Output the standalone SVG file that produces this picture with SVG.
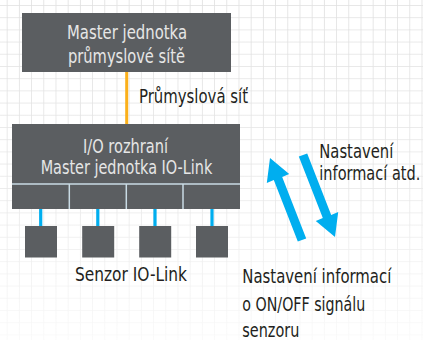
<svg xmlns="http://www.w3.org/2000/svg" width="423" height="340" viewBox="0 0 423 340">
  <defs>
    <pattern id="grid" x="6.7" y="5" width="12.2" height="12.2" patternUnits="userSpaceOnUse">
      <path d="M0 0 H12.2 M0 0 V12.2" fill="none" stroke="#e0e0e0" stroke-width="1.6"/>
    </pattern>
    <linearGradient id="fade" x1="0" y1="0" x2="0" y2="1">
      <stop offset="0" stop-color="#fff" stop-opacity="1"/>
      <stop offset="0.55" stop-color="#fff" stop-opacity="0.8"/>
      <stop offset="1" stop-color="#fff" stop-opacity="0.2"/>
    </linearGradient>
    <mask id="gridmask">
      <rect x="0" y="0" width="423" height="340" fill="url(#fade)"/>
    </mask>
  </defs>
  <style>
    .box { fill: #5b5e61; }
    .t { font-family: "DejaVu Sans Condensed", "Liberation Sans", sans-serif; font-size: 20px; }
    .in { fill: #e6e6e6; }
    .out { fill: #231f20; }
    .blue { stroke: #00aeef; stroke-width: 3.2; fill: none; }
    .arrow { fill: #00aeef; }
    .div { stroke: #c9dbe5; stroke-width: 1.5; }
  </style>
  <rect x="0" y="0" width="423" height="340" fill="#ffffff"/>
  <rect x="0" y="0" width="423" height="340" fill="url(#grid)" mask="url(#gridmask)"/>

  <g id="connectors">
    <line x1="126.7" y1="72" x2="126.7" y2="124" stroke="#fbb01a" stroke-width="3"/>
    <line class="blue" x1="40.7" y1="209" x2="40.7" y2="226"/>
    <line class="blue" x1="97.8" y1="209" x2="97.8" y2="226"/>
    <line class="blue" x1="155" y1="209" x2="155" y2="226"/>
    <line class="blue" x1="212" y1="209" x2="212" y2="226"/>
  </g>

  <g id="master-network">
    <rect class="box" x="22" y="13" width="209" height="59"/>
    <text class="t in" x="127" y="39" text-anchor="middle" textLength="120" lengthAdjust="spacingAndGlyphs">Master jednotka</text>
    <text class="t in" x="126.5" y="62.5" text-anchor="middle" textLength="117" lengthAdjust="spacingAndGlyphs">průmyslové sítě</text>
  </g>

  <g id="network-label">
    <text class="t out" x="139" y="102.5" textLength="109" lengthAdjust="spacingAndGlyphs">Průmyslová síť</text>
  </g>

  <g id="iolink-master">
    <rect class="box" x="12" y="124" width="228" height="85"/>
    <line class="div" x1="12" y1="184" x2="240" y2="184"/>
    <line class="div" x1="69.3" y1="184" x2="69.3" y2="209"/>
    <line class="div" x1="126.3" y1="184" x2="126.3" y2="209"/>
    <line class="div" x1="183" y1="184" x2="183" y2="209"/>
    <text class="t in" x="125.5" y="152.7" text-anchor="middle" textLength="85" lengthAdjust="spacingAndGlyphs">I/O rozhraní</text>
    <text class="t in" x="126.5" y="174" text-anchor="middle" textLength="171.6" lengthAdjust="spacingAndGlyphs">Master jednotka IO-Link</text>
  </g>

  <g id="sensor-1"><rect class="box" x="25" y="226" width="32" height="31.5"/></g>
  <g id="sensor-2"><rect class="box" x="82.2" y="226" width="32" height="31.5"/></g>
  <g id="sensor-3"><rect class="box" x="139.2" y="226" width="32" height="31.5"/></g>
  <g id="sensor-4"><rect class="box" x="196" y="226" width="32" height="31.5"/></g>

  <g id="sensor-label">
    <text class="t out" x="75" y="281" textLength="112" lengthAdjust="spacingAndGlyphs">Senzor IO-Link</text>
  </g>

  <g id="arrows">
    <polygon class="arrow" points="270,158 289.2,174.1 282.2,176.9 306.2,238.4 297.8,241.6 273.8,180.1 266.8,182.9"/>
    <polygon class="arrow" points="335,237 315.8,220.9 322.8,218.1 298.8,156.6 307.2,153.4 331.2,214.9 338.2,212.1"/>
  </g>

  <g id="settings-label">
    <text class="t out" x="319.3" y="157.7" textLength="74" lengthAdjust="spacingAndGlyphs">Nastavení</text>
    <text class="t out" x="319.3" y="180" textLength="101" lengthAdjust="spacingAndGlyphs">informací atd.</text>
  </g>

  <g id="onoff-label">
    <text class="t out" x="242.3" y="283.3" textLength="149" lengthAdjust="spacingAndGlyphs">Nastavení informací</text>
    <text class="t out" x="242.3" y="310.5" textLength="123" lengthAdjust="spacingAndGlyphs">o ON/OFF signálu</text>
    <text class="t out" x="242.3" y="336.5" textLength="57" lengthAdjust="spacingAndGlyphs">senzoru</text>
  </g>
</svg>
